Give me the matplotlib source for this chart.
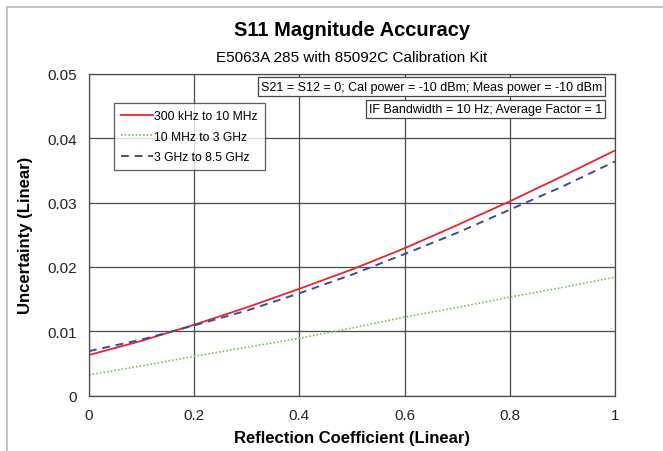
import matplotlib
matplotlib.use("Agg")
import matplotlib.pyplot as plt
from matplotlib.patches import Rectangle

plt.rcParams['font.family'] = ['Liberation Sans', 'DejaVu Sans']

# Datos
reflexion = [0.0, 0.1, 0.2, 0.3, 0.4, 0.5, 0.6, 0.7, 0.8, 0.9, 1.0]
banda_baja = [0.0063, 0.0085, 0.0110, 0.0137, 0.0166, 0.0196, 0.0229, 0.0265, 0.0302, 0.0341, 0.0381]
banda_media = [0.0032, 0.0046, 0.0061, 0.0075, 0.0089, 0.0105, 0.0122, 0.0137, 0.0153, 0.0168, 0.0184]
banda_alta = [0.0069, 0.0087, 0.0109, 0.0132, 0.0159, 0.0188, 0.0220, 0.0253, 0.0289, 0.0325, 0.0364]
etiquetas = ["300 kHz to 10 MHz", "10 MHz to 3 GHz", "3 GHz to 8.5 GHz"]
x_ticks = [0, 0.2, 0.4, 0.6, 0.8, 1]
x_tick_labels = ["0", "0.2", "0.4", "0.6", "0.8", "1"]
y_ticks = [0, 0.01, 0.02, 0.03, 0.04, 0.05]
y_tick_labels = ["0", "0.01", "0.02", "0.03", "0.04", "0.05"]

W, H = 663, 452
fig = plt.figure(figsize=(W / 100, H / 100), dpi=100)

# Marco gris del area del grafico (cortado a derecha y abajo)
fig.patches.append(Rectangle((7 / W, -0.1), 1.2, 1 - 8 / H + 0.1,
                             transform=fig.transFigure, fill=False,
                             edgecolor='#b8b8b8', linewidth=1.2))

ax = fig.add_axes([89 / W, 1 - 396.5 / H, (615 - 89) / W, (396.5 - 75) / H])

ax.plot(reflexion, banda_baja, color='#e8242c', linewidth=1.3, label=etiquetas[0])
ax.plot(reflexion, banda_media, color='#7dc24a', linewidth=1.2, linestyle=(0, (1, 1.2)),
        label=etiquetas[1])
ax.plot(reflexion, banda_alta, color='#3a4b9c', linewidth=1.4, linestyle=(0, (4, 3)),
        label=etiquetas[2])

ax.set_xlim(0, 1)
ax.set_ylim(0, 0.05)
ax.set_xticks(x_ticks)
ax.set_xticklabels(x_tick_labels)
ax.set_yticks(y_ticks)
ax.set_yticklabels(y_tick_labels)
ax.tick_params(length=0, labelsize=11, colors='#222222', pad=9)
ax.grid(True, color='#4a4a4a', linewidth=0.9)
ax.set_axisbelow(True)
for s in ax.spines.values():
    s.set_color('#4a4a4a')
    s.set_linewidth(0.9)

ax.set_xlabel("Reflection Coefficient (Linear)", fontsize=12, fontweight='bold', labelpad=6)
ax.set_ylabel("Uncertainty (Linear)", fontsize=12, fontweight='bold', labelpad=10)

fig.text((89 + 615) / 2 / W, 1 - 30 / H, "S11 Magnitude Accuracy", ha='center', va='center',
         fontsize=14.5, fontweight='bold')
fig.text((89 + 615) / 2 / W, 1 - 58 / H, "E5063A 285 with 85092C Calibration Kit",
         ha='center', va='center', fontsize=11)

leg = ax.legend(loc='upper left', bbox_to_anchor=((114 - 89) / 526, (396.5 - 104) / 321.5),
                borderaxespad=0, fontsize=8.7, frameon=True, fancybox=False,
                edgecolor='#333333', handlelength=2.6, handletextpad=0.1,
                labelspacing=0.7, borderpad=0.6)
leg.get_frame().set_linewidth(0.9)

caja = dict(boxstyle='square,pad=0.25', facecolor='white', edgecolor='#444444', linewidth=0.9)
ax.text((602 - 89) / 526, (396.5 - 87.5) / 321.5,
        "S21 = S12 = 0; Cal power = -10 dBm; Meas power = -10 dBm",
        transform=ax.transAxes, ha='right', va='center', fontsize=9, bbox=caja)
ax.text((602 - 89) / 526, (396.5 - 110) / 321.5,
        "IF Bandwidth = 10 Hz; Average Factor = 1",
        transform=ax.transAxes, ha='right', va='center', fontsize=9, bbox=caja)

fig.savefig("out.png", dpi=100)
